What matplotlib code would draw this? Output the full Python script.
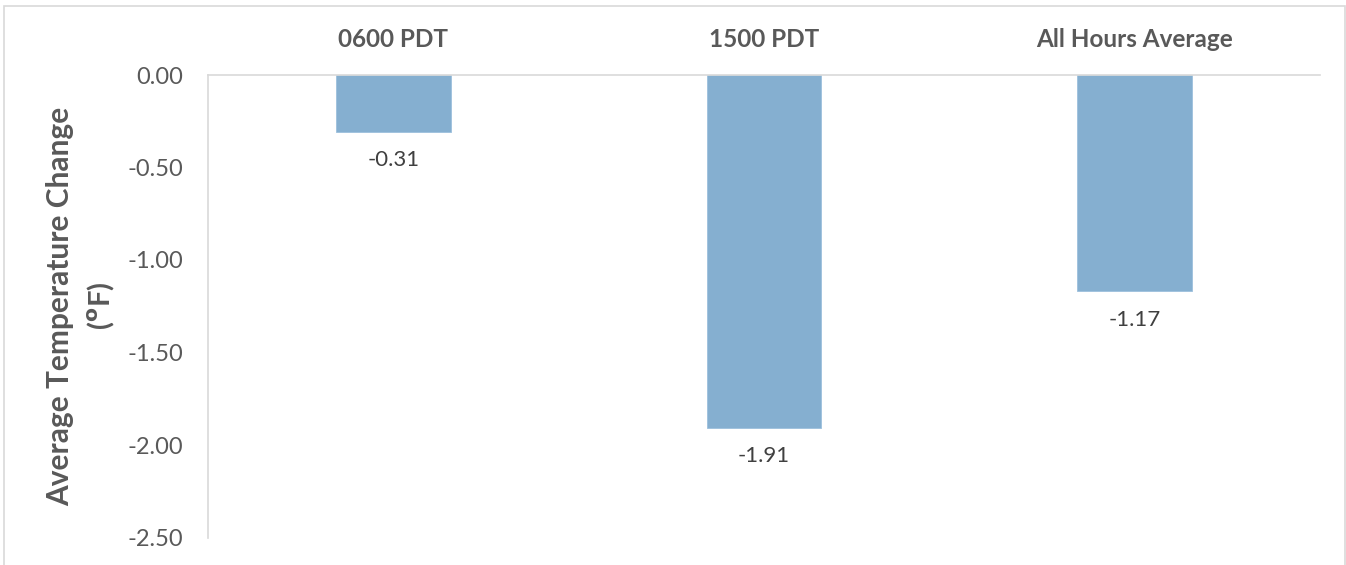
import matplotlib
matplotlib.use("Agg")
import matplotlib.pyplot as plt
from matplotlib.patches import Rectangle

categories = ["0600 PDT", "1500 PDT", "All Hours Average"]
values = [-0.31, -1.91, -1.17]
yticks = [0.0, -0.5, -1.0, -1.5, -2.0, -2.5]

plt.rcParams['font.family'] = ['Lato', 'DejaVu Sans']

W, H = 1346, 565
fig = plt.figure(figsize=(W / 100, H / 100), dpi=100)
ax = fig.add_axes([208 / W, 1 - 537.5 / H, (1320 - 208) / W, (537.5 - 75) / H])

x = list(range(len(categories)))
ax.bar(x, values, width=0.31, color="#85AFD0", edgecolor="#9CC0DD", linewidth=0.6, zorder=2)

ax.set_xlim(-0.5, len(categories) - 0.5)
ax.set_ylim(-2.5, 0)
ax.set_yticks(yticks)
ax.set_yticklabels([f"{v:.2f}" for v in yticks], color="#595959", fontsize=17)
ax.tick_params(axis="y", length=0, pad=18)

ax.xaxis.tick_top()
ax.set_xticks(x)
ax.set_xticklabels(categories, color="#595959", fontsize=17.5, fontweight="bold")
ax.tick_params(axis="x", length=0, pad=17)

for s in ["right", "bottom"]:
    ax.spines[s].set_visible(False)
ax.spines["top"].set_color("#D9D9D9")
ax.spines["left"].set_color("#D9D9D9")
ax.spines["top"].set_linewidth(1.2)
ax.spines["left"].set_linewidth(1.2)

for xi, v in zip(x, values):
    ax.annotate(f"{v:.2f}", (xi, v), xytext=(0, -13), textcoords="offset points",
                ha="center", va="top", fontsize=16, color="#404040")

ycen = 1 - 306 / H
fig.text(60 / W, ycen, "Average Temperature Change", rotation=90, ha="center", va="center",
         fontsize=21.5, fontweight="bold", color="#595959")
fig.text(101 / W, ycen, "($^{\\mathbf{o}}$F)", rotation=90, ha="center", va="center",
         fontsize=21, fontweight="bold", color="#595959")

fig.patches.append(Rectangle((4 / W, -0.02), (1345 - 4) / W, 1 - 6 / H + 0.02,
                             transform=fig.transFigure, fill=False, edgecolor="#D9D9D9",
                             linewidth=1.2, zorder=0))

fig.savefig("out.png", dpi=100)
